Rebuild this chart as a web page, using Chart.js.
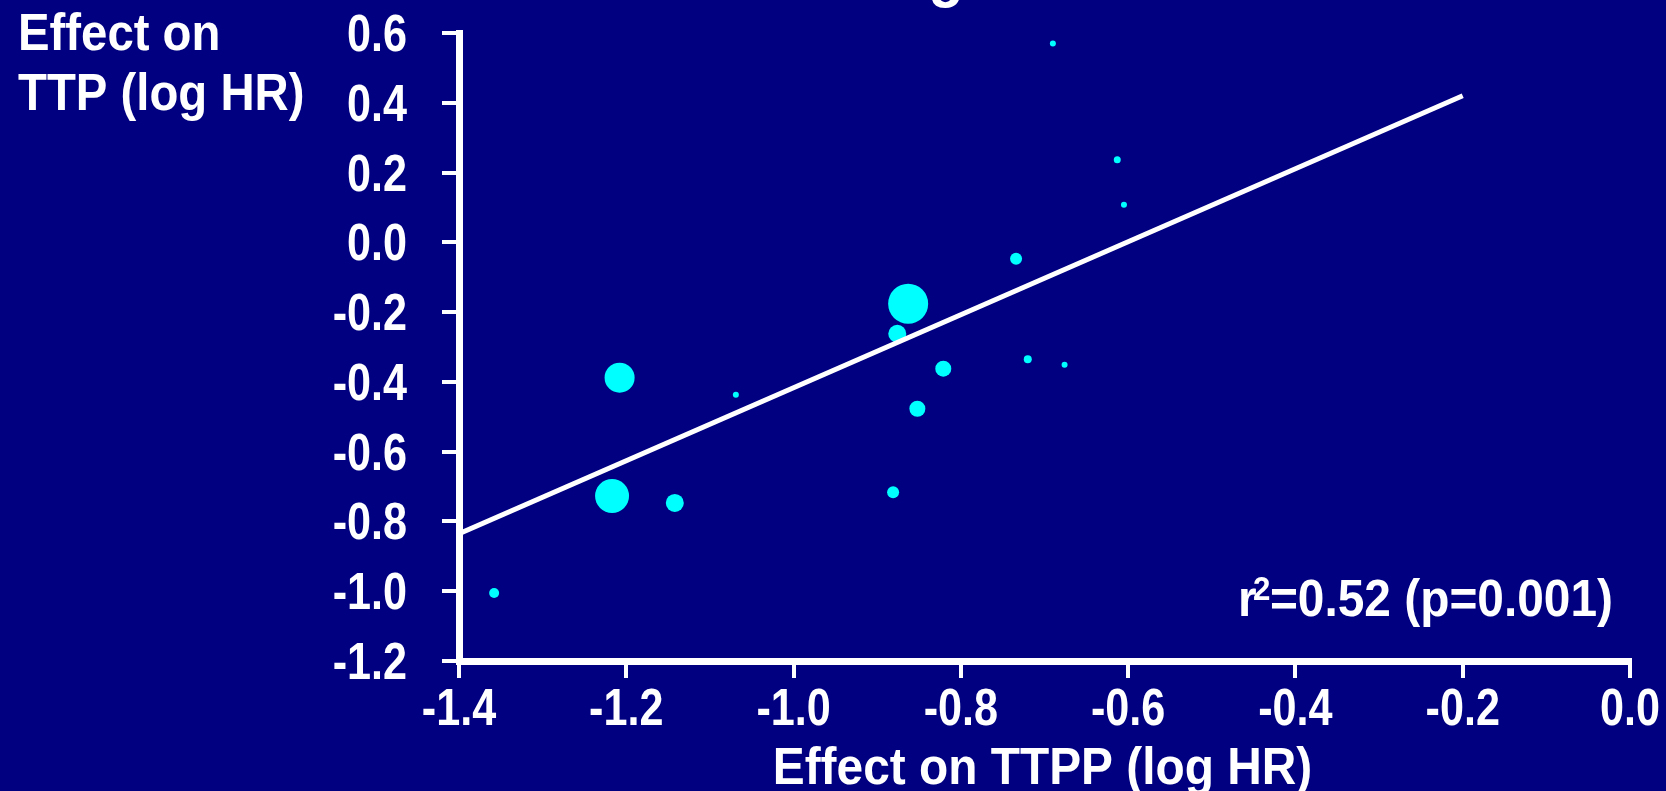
<!DOCTYPE html>
<html>
<head>
<meta charset="utf-8">
<title>Effect on TTP vs Effect on TTPP</title>
<script src="https://cdn.jsdelivr.net/npm/chart.js@4.4.1/dist/chart.umd.min.js"></script>
<style>
    html, body { margin: 0; padding: 0; background: #000080; }
    #wrap { width: 1666px; height: 791px; }
</style>
</head>
<body>
<div id="wrap"><canvas id="trialChart" width="1666" height="791"></canvas></div>
<script>
// ===============================
// Data
// ===============================
// one entry per trial: treatment effect on TTPP (x) and on TTP (y), log HR
const effectTTPP = [-0.863, -0.876, -1.208, -1.069, -1.217, -1.142, -1.358, -0.881,
                    -0.852, -0.821, -0.720, -0.676, -0.690, -0.613, -0.605, -0.734];
const effectTTP  = [-0.176, -0.262, -0.388, -0.437, -0.727, -0.747, -1.005, -0.716,
                    -0.477, -0.362, -0.335, -0.351,  0.570,  0.237,  0.108, -0.047];
// bubble size (trial weight)
const trialWeight = [20, 9, 15, 3, 17, 9, 5, 6, 8, 8, 4, 3, 3, 3.5, 3, 6];

// regression line end points
const fitX = [-1.4, -0.2];
const fitY = [-0.835, 0.42];

// tick labels
const xTickLabels = ["-1.4", "-1.2", "-1.0", "-0.8", "-0.6", "-0.4", "-0.2", "0.0"];
const yTickLabels = ["-1.2", "-1.0", "-0.8", "-0.6", "-0.4", "-0.2", "0.0", "0.2", "0.4", "0.6"];

const yTitleLines = ["Effect on", "TTP (log HR)"];
const xTitle = "Effect on TTPP (log HR)";
const fitNote = { r: "r", sup: "2", rest: "=0.52 (p=0.001)" };

// ===============================
// Style
// ===============================
const NAVY = "#000080";
const CYAN = "#00ffff";
const WHITE = "#ffffff";
const FONT = "'Liberation Sans', Arial, sans-serif";

// the slide font is a narrow bold face: squeeze a normal bold one
function drawNarrow(ctx, text, x, y, align, squeeze, size) {
    ctx.save();
    ctx.font = "bold " + size + "px " + FONT;
    ctx.translate(x, y);
    ctx.scale(squeeze, 1);
    ctx.textAlign = align;
    ctx.textBaseline = "alphabetic";
    ctx.fillText(text, 0, 0);
    ctx.restore();
}

function narrowWidth(ctx, text, squeeze, size) {
    ctx.save();
    ctx.font = "bold " + size + "px " + FONT;
    const w = ctx.measureText(text).width * squeeze;
    ctx.restore();
    return w;
}

// background + all texts
const slidePlugin = {
    id: "slide",
    beforeDraw(chart) {
        const ctx = chart.ctx;
        ctx.save();
        ctx.fillStyle = NAVY;
        ctx.fillRect(0, 0, chart.width, chart.height);
        ctx.restore();
    },
    afterDraw(chart) {
        const ctx = chart.ctx;
        const area = chart.chartArea;
        const xs = chart.scales.x;
        const ys = chart.scales.y;
        ctx.save();
        ctx.fillStyle = WHITE;

        // tick labels
        xs.ticks.forEach((t, i) => {
            drawNarrow(ctx, xTickLabels[i], xs.getPixelForValue(t.value), area.bottom + 64, "center", 0.83, 52);
        });
        ys.ticks.forEach((t, i) => {
            drawNarrow(ctx, yTickLabels[i], area.left - 52, ys.getPixelForValue(t.value) + 18, "right", 0.83, 52);
        });

        // y title, horizontal, top left
        drawNarrow(ctx, yTitleLines[0], 18, 50, "left", 0.91, 52);
        drawNarrow(ctx, yTitleLines[1], 18, 110, "left", 0.91, 52);

        // x title
        drawNarrow(ctx, xTitle, (area.left + area.right) / 2 - 2, 784, "center", 0.92, 52);

        // cut-off slide title (only its descender shows)
        drawNarrow(ctx, "g", 946, -5, "center", 0.91, 64);

        // r^2 note
        const right = area.right - 17;
        const base = area.bottom - 45;
        drawNarrow(ctx, fitNote.rest, right, base, "right", 0.92, 52);
        const restStart = right - narrowWidth(ctx, fitNote.rest, 0.92, 52);
        drawNarrow(ctx, fitNote.sup, restStart - 17, base - 16, "left", 0.92, 34);
        drawNarrow(ctx, fitNote.r, restStart - 32, base, "left", 0.92, 52);
        ctx.restore();
    }
};

const bubbles = effectTTPP.map((v, i) => ({ x: v, y: effectTTP[i], r: trialWeight[i] }));
const fitLine = fitX.map((v, i) => ({ x: v, y: fitY[i] }));

const axisGrid = {
    display: true,
    drawOnChartArea: false,
    drawTicks: true,
    tickLength: 17,
    color: WHITE,
    lineWidth: 4
};
const axisBorder = { display: true, color: WHITE, width: 7 };

const ctx = document.getElementById("trialChart").getContext("2d");
new Chart(ctx, {
    type: "bubble",
    data: {
        datasets: [
            {
                type: "line",
                label: "fit",
                data: fitLine,
                borderColor: WHITE,
                borderWidth: 5,
                pointRadius: 0,
                fill: false,
                order: 0
            },
            {
                label: "trials",
                data: bubbles,
                backgroundColor: CYAN,
                borderWidth: 0,
                order: 1
            }
        ]
    },
    options: {
        responsive: false,
        animation: false,
        devicePixelRatio: 1,
        layout: { padding: { top: 33, right: 36, bottom: 0, left: 0 } },
        plugins: {
            legend: { display: false },
            tooltip: { enabled: false }
        },
        scales: {
            x: {
                type: "linear",
                min: -1.4,
                max: 0,
                grid: axisGrid,
                border: axisBorder,
                ticks: { stepSize: 0.2, display: false },
                afterFit: (scale) => { scale.height = 130; }
            },
            y: {
                type: "linear",
                min: -1.2,
                max: 0.6,
                grid: axisGrid,
                border: axisBorder,
                ticks: { stepSize: 0.2, display: false },
                afterFit: (scale) => { scale.width = 459; }
            }
        }
    },
    plugins: [slidePlugin]
});
</script>
</body>
</html>
